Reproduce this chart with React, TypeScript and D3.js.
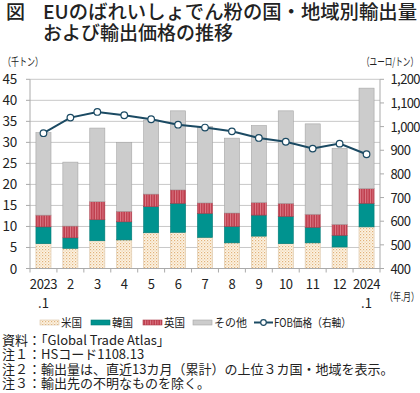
import React from "react";
import * as d3 from "d3";

const categories = ["2023\n.1", "2", "3", "4", "5", "6", "7", "8", "9", "10", "11", "12", "2024\n.1"];
const usa = [5.9, 4.8, 6.6, 6.8, 8.5, 8.6, 7.4, 6.1, 7.7, 5.9, 6.1, 5.1, 9.9];
const korea = [4.0, 2.5, 5.0, 4.3, 6.2, 6.9, 5.7, 3.9, 5.0, 6.5, 3.7, 2.8, 5.6];
const uk = [2.8, 2.8, 4.3, 2.5, 3.0, 3.2, 2.5, 3.2, 3.0, 3.1, 3.1, 2.6, 3.5];
const others = [19.6, 15.2, 17.5, 16.4, 17.6, 18.8, 18.2, 17.8, 18.3, 22.0, 21.5, 18.1, 23.9];
const fobPrice = [972, 1038, 1062, 1048, 1031, 1008, 996, 980, 952, 936, 907, 928, 883];
const leftTicks = [0, 5, 10, 15, 20, 25, 30, 35, 40, 45];
const rightTicks = [400, 500, 600, 700, 800, 900, 1000, 1100, 1200];
const seriesNames = ["米国", "韓国", "英国", "その他"];
const notes = [
  "資料：「Global Trade Atlas」",
  "注１：HSコード1108.13",
  "注２：輸出量は、直近13カ月（累計）の上位３カ国・地域を表示。",
  "注３：輸出先の不明なものを除く。",
];

const FONT = "'Noto Sans CJK JP', 'Noto Sans', sans-serif";

export default function App() {
  const W = 420, H = 393;
  const x0 = 30, x1 = 380, yTop = 79.3, yBot = 268.5;
  const x = d3.scaleBand<number>().domain(d3.range(categories.length)).range([x0, x1]).paddingInner(0.44).paddingOuter(0.22);
  const yL = d3.scaleLinear().domain([0, 45]).range([yBot, yTop]);
  const yR = d3.scaleLinear().domain([400, 1200]).range([yBot, yTop]);

  const table = categories.map((c, i) => ({ i, usa: usa[i], korea: korea[i], uk: uk[i], others: others[i] }));
  const keys = ["usa", "korea", "uk", "others"];
  const stacked = d3.stack<any>().keys(keys)(table);
  const fills = ["url(#patUS)", "#00938f", "url(#patUK)", "#cccccc"];
  const strokes = ["#d9c3a5", "#007a76", "#a83a48", "#a6a6a6"];

  const line = d3.line<number>().x((_, i) => x(i)! + x.bandwidth() / 2).y((d) => yR(d));
  const step = (x1 - x0) / categories.length;
  const legendX = [40, 91, 143, 193];
  const legendW = [21, 21, 21, 33];

  return (
    <svg width={W} height={H} style={{ position: "absolute", left: 0, top: 0, fontFamily: FONT }}>
      <defs>
        <pattern id="patUS" width="3" height="3" patternUnits="userSpaceOnUse">
          <rect width="3" height="3" fill="#fcf3e4" />
          <rect x="0" y="0" width="1.2" height="1.2" fill="#e2b27a" />
          <rect x="1.5" y="1.5" width="1.2" height="1.2" fill="#efcfa5" />
        </pattern>
        <pattern id="patUK" width="2.5" height="3" patternUnits="userSpaceOnUse">
          <rect width="2.5" height="3" fill="#c0404f" />
          <rect x="0" y="0" width="0.9" height="3" fill="#dc7c88" />
        </pattern>
      </defs>
      <rect width={W} height={H} fill="#fff" />
      {/* Title */}
      <text x={6} y={19} fontSize={19} fontWeight={500} fill="#222">図</text>
      <text x={43} y={19} fontSize={19} fontWeight={500} fill="#222" textLength={374} lengthAdjust="spacingAndGlyphs">EUのばれいしょでん粉の国・地域別輸出量</text>
      <text x={43} y={39.5} fontSize={19} fontWeight={500} fill="#222">および輸出価格の推移</text>
      {/* units */}
      <text x={3} y={66} fontSize={11} fill="#222" textLength={40} lengthAdjust="spacingAndGlyphs">（千トン）</text>
      <text x={362} y={66} fontSize={11} fill="#222" textLength={56} lengthAdjust="spacingAndGlyphs">（ユーロ/トン）</text>
      {/* grid */}
      {leftTicks.map((t) => (
        <line key={t} x1={x0} x2={x1} y1={yL(t)} y2={yL(t)} stroke="#c8c8c8" strokeWidth={1} />
      ))}
      {/* bars */}
      {stacked.map((s, si) => (
        <g key={si}>
          {s.map((d, i) => (
            <rect key={i} x={x(i)} y={yL(d[1])} width={x.bandwidth()} height={yL(d[0]) - yL(d[1])}
              fill={fills[si]} stroke={strokes[si]} strokeWidth={0.6} />
          ))}
        </g>
      ))}
      {/* axes */}
      <line x1={x0} x2={x0} y1={yTop} y2={yBot} stroke="#aaa" />
      <line x1={x1} x2={x1} y1={yTop} y2={yBot} stroke="#aaa" />
      <line x1={x0} x2={x1} y1={yBot} y2={yBot} stroke="#aaa" />
      {leftTicks.map((t) => (
        <g key={t}>
          <line x1={x0 - 4} x2={x0} y1={yL(t)} y2={yL(t)} stroke="#aaa" />
          <text x={17} y={yL(t) + 5} fontSize={13.5} fill="#222" textAnchor="end" letterSpacing={-0.3}>{t}</text>
        </g>
      ))}
      {rightTicks.map((t) => (
        <g key={t}>
          <line x1={x1} x2={x1 + 4} y1={yR(t)} y2={yR(t)} stroke="#aaa" />
          <text x={390.5} y={yR(t) + 5} fontSize={13} fill="#222" letterSpacing={-0.6}>{d3.format(",")(t)}</text>
        </g>
      ))}
      {d3.range(categories.length + 1).map((i) => (
        <line key={i} x1={x0 + i * step} x2={x0 + i * step} y1={yBot} y2={yBot + 4} stroke="#aaa" />
      ))}
      {categories.map((c, i) => {
        const parts = c.split("\n");
        const cx = x(i)! + x.bandwidth() / 2;
        return (
          <g key={i}>
            <text x={cx} y={288.5} fontSize={13} fill="#222" textAnchor="middle" letterSpacing={-0.4}>{parts[0]}</text>
            {parts[1] && <text x={cx} y={308} fontSize={13} fill="#222" textAnchor="middle">{parts[1]}</text>}
          </g>
        );
      })}
      <text x={385} y={301} fontSize={11} fill="#222" textLength={34} lengthAdjust="spacingAndGlyphs">（年.月）</text>
      {/* line */}
      <path d={line(fobPrice)!} fill="none" stroke="#1b4a63" strokeWidth={2} />
      {fobPrice.map((v, i) => (
        <circle key={i} cx={x(i)! + x.bandwidth() / 2} cy={yR(v)} r={3.3} fill="#fff" stroke="#1b4a63" strokeWidth={1.2} />
      ))}
      {/* legend */}
      {[0, 1, 2, 3].map((k) => (
        <g key={k}>
          <rect x={legendX[k]} y={320} width={19} height={5} fill={fills[k]} stroke={strokes[k]} strokeWidth={0.6} />
          <text x={legendX[k] + 21} y={327} fontSize={11.5} fill="#222" textLength={legendW[k]} lengthAdjust="spacingAndGlyphs">{seriesNames[k]}</text>
        </g>
      ))}
      <line x1={254} x2={273} y1={322.5} y2={322.5} stroke="#1b4a63" strokeWidth={2} />
      <circle cx={263.5} cy={322.5} r={2.8} fill="#fff" stroke="#1b4a63" strokeWidth={1.2} />
      <text x={274} y={327} fontSize={11.5} fill="#222" textLength={77} lengthAdjust="spacingAndGlyphs">FOB価格（右軸）</text>
      {/* notes */}
      {notes.map((n, i) => (
        <text key={i} x={2} y={344.5 + i * 14.6} fontSize={13} fill="#222">{n}</text>
      ))}
    </svg>
  );
}
